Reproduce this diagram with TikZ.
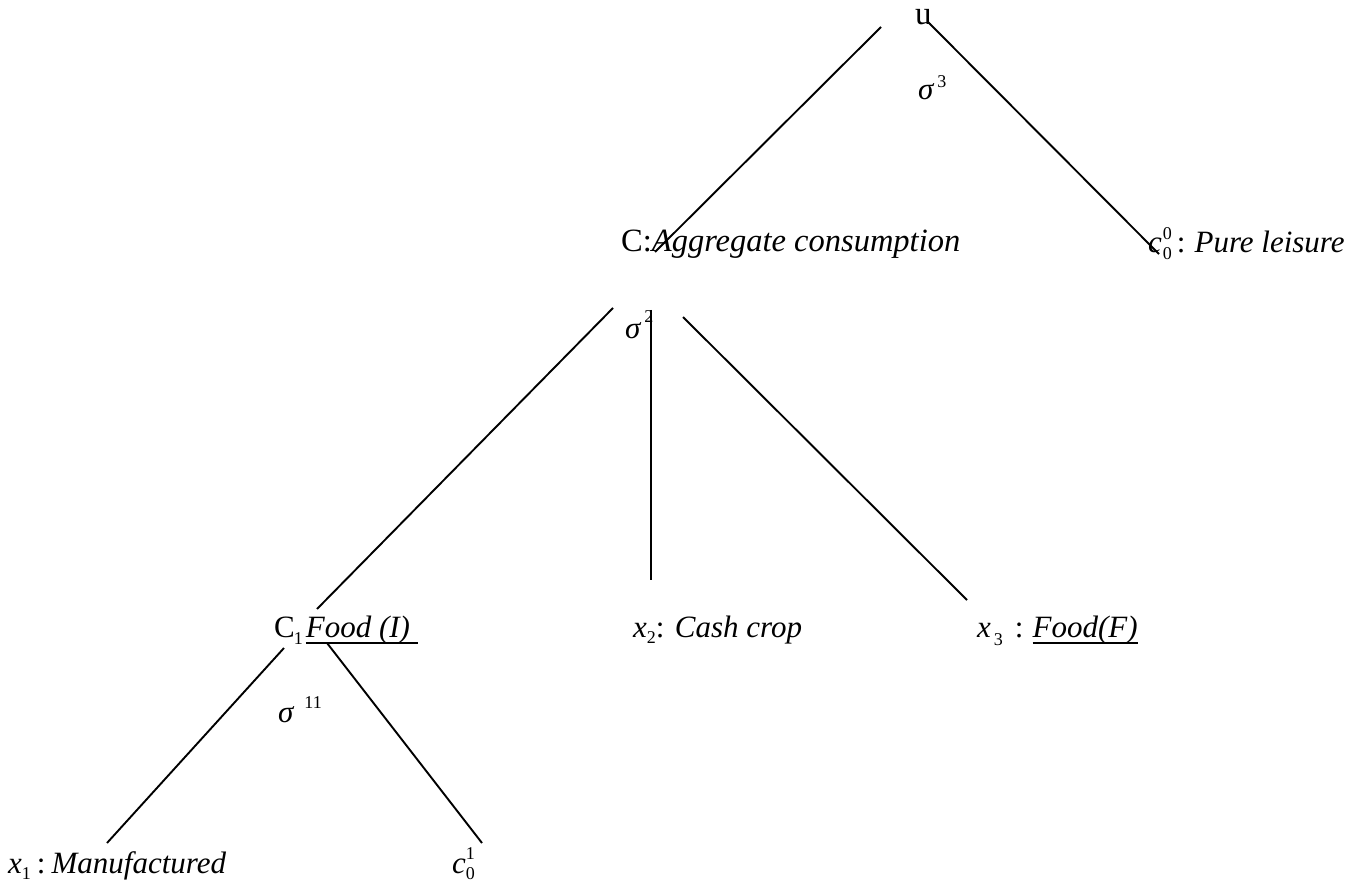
\documentclass[tikz,border=0pt]{standalone}
\usepackage{fontspec}
\setmainfont{Liberation Serif}
\newcommand{\scr}[1]{{\fontsize{18}{18}\selectfont #1}}
\newcommand{\up}[2]{\raisebox{#1}{\scr{#2}}}
\newcommand{\ulbox}[1]{\setbox0\hbox{#1}\rlap{\rule[-7pt]{\wd0}{1.8pt}}\box0}
\begin{document}
\begin{tikzpicture}[x=1pt,y=-1pt,
  lbl/.style={inner sep=0pt, anchor=base west, font=\fontsize{31}{34}\selectfont},
  edge/.style={line width=1.9pt}]
\useasboundingbox (0,0) rectangle (1362,882);
% labels
\node[lbl, font=\fontsize{33}{36}\selectfont] (u) at (915,25) {u};
\node[lbl] (s3) at (918,100) {\textit{σ}\hspace{3pt}\up{12pt}{3}};
\node[lbl, font=\fontsize{32.5}{36}\selectfont] (C) at (621,252) {C:\textit{Aggregate consumption}};
\node[lbl] (c00) at (1148,253) {\textit{c}\hspace{1pt}\rlap{\up{13pt}{0}}\up{-7pt}{0}\hspace{5pt}:\hspace{9pt}\textit{Pure leisure}};
\node[lbl] (s2) at (625,338) {\textit{σ}\hspace{3pt}\up{16pt}{2}};
\node[lbl] (C1) at (274,637) {C\hspace{-1pt}\up{-7pt}{1}\hspace{3pt}\ulbox{\textit{Food (I)}\hspace{8pt}}};
\node[lbl] (x2) at (633,637) {\textit{x}\up{-6pt}{2}: \textit{Cash crop}};
\node[lbl] (x3) at (977,637) {\textit{x}\hspace{3pt}\up{-8pt}{3}\hspace{12pt}:\hspace{9pt}\ulbox{\textit{Food(F)}}};
\node[lbl] (s11) at (278,722) {\textit{σ}\hspace{10pt}\up{14pt}{11}};
\node[lbl] (x1) at (8,873) {\textit{x}\up{-6pt}{1}\hspace{6pt}:\hspace{6pt}\textit{Manufactured}};
\node[lbl] (c01) at (452,873) {\textit{c}\rlap{\up{14pt}{1}}\up{-6pt}{0}};
% connector ends
\coordinate (uL) at (881,27);   \coordinate (CA) at (655,252);
\coordinate (uR) at (928,22);   \coordinate (c00e) at (1159,254);
\coordinate (s2L) at (613,308); \coordinate (C1t) at (317,609);
\coordinate (s2M) at (651,310); \coordinate (x2t) at (651,580);
\coordinate (s2R) at (683,317); \coordinate (x3t) at (967,600);
\coordinate (C1L) at (284,648); \coordinate (x1t) at (107,843);
\coordinate (C1R) at (327,643); \coordinate (c01t) at (482,843);
% connectors
\draw[edge] (uL) -- (CA);
\draw[edge] (uR) -- (c00e);
\draw[edge] (s2L) -- (C1t);
\draw[edge] (s2M) -- (x2t);
\draw[edge] (s2R) -- (x3t);
\draw[edge] (C1L) -- (x1t);
\draw[edge] (C1R) -- (c01t);
\end{tikzpicture}
\end{document}
